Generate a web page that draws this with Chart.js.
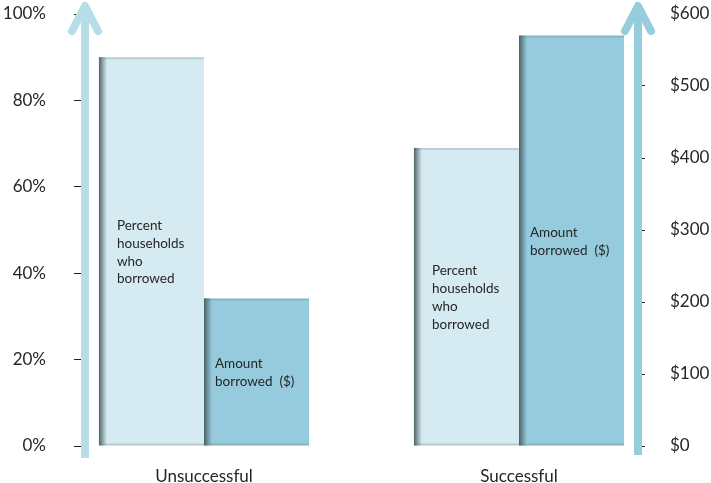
<!DOCTYPE html>
<html>
<head>
<meta charset="utf-8">
<script src="https://cdn.jsdelivr.net/npm/chart.js@4.4.1/dist/chart.umd.min.js"></script>
<style>
  html, body { margin: 0; padding: 0; background: #fff; }
  #wrap { width: 711px; height: 483px; }
</style>
</head>
<body>
<div id="wrap"><canvas id="borrowChart"></canvas></div>
<script>
const categories = ['Unsuccessful', 'Successful'];
const pctBorrowed = [90, 69];
const amtBorrowed = [205, 570];
const pctLabel = ['Percent', 'households', 'who', 'borrowed'];
const amtLabel = ['Amount', 'borrowed  ($)'];

const FONT = 'Lato, "Open Sans", sans-serif';
const TEXT = '#262626';

// left-edge shading + thin top/bottom edges on every bar
const barShade = {
    id: 'barShade',
    afterDatasetsDraw(chart) {
        const ctx = chart.ctx;
        chart.data.datasets.forEach((ds, i) => {
            chart.getDatasetMeta(i).data.forEach(bar => {
                const { x, y, base, width } = bar.getProps(['x', 'y', 'base', 'width'], true);
                const left = x - width / 2;
                ctx.save();
                let g = ctx.createLinearGradient(left, 0, left + 8, 0);
                g.addColorStop(0, 'rgba(70,90,95,0.95)');
                g.addColorStop(0.4, 'rgba(70,90,95,0.55)');
                g.addColorStop(1, 'rgba(70,90,95,0)');
                ctx.fillStyle = g;
                ctx.fillRect(left, y, 8, base - y);
                ctx.fillStyle = 'rgba(60,90,100,0.18)';
                ctx.fillRect(left, y, width, 2);
                ctx.fillStyle = 'rgba(90,110,115,0.25)';
                ctx.fillRect(left, base - 2, width, 2);
                ctx.restore();
            });
        });
    }
};

// series names written inside the bars
const barText = {
    id: 'barText',
    afterDatasetsDraw(chart) {
        const ctx = chart.ctx;
        const sets = [[pctLabel, 18], [amtLabel, 11]];
        ctx.save();
        ctx.font = '13.5px ' + FONT;
        ctx.fillStyle = TEXT;
        ctx.textAlign = 'left';
        ctx.textBaseline = 'middle';
        sets.forEach(([lines, dx], i) => {
            chart.getDatasetMeta(i).data.forEach(bar => {
                const { x, y, base, width } = bar.getProps(['x', 'y', 'base', 'width'], true);
                const lh = 17.8;
                const mid = (y + base) / 2 + 1;
                const y0 = mid - (lines.length - 1) * lh / 2;
                lines.forEach((t, k) => ctx.fillText(t, x - width / 2 + dx, y0 + k * lh));
            });
        });
        ctx.restore();
    }
};

// thick arrows standing in for the two value axes
const axisArrows = {
    id: 'axisArrows',
    afterDraw(chart) {
        const ctx = chart.ctx;
        const a = chart.chartArea;
        const arrow = (cx, bottom, color) => {
            ctx.save();
            ctx.strokeStyle = color;
            ctx.lineWidth = 8;
            ctx.lineCap = 'butt';
            ctx.beginPath();
            ctx.moveTo(cx, bottom);
            ctx.lineTo(cx, a.top - 8);
            ctx.stroke();
            ctx.lineCap = 'round';
            ctx.lineJoin = 'round';
            ctx.beginPath();
            ctx.moveTo(cx - 13, a.top + 17);
            ctx.lineTo(cx, a.top - 8);
            ctx.lineTo(cx + 13, a.top + 17);
            ctx.stroke();
            ctx.restore();
        };
        arrow(a.left + 3, a.bottom + 12, '#b7dde8');
        arrow(a.right + 1, a.bottom + 9, '#96cddd');
    }
};

// keep the value axes from pushing the plot area down
const fitSide = w => scale => {
    scale.width = w;
    scale.paddingTop = 10;
    scale.paddingBottom = 0;
};

new Chart(document.getElementById('borrowChart'), {
    type: 'bar',
    data: {
        datasets: [
            {
                label: 'Percent households who borrowed',
                data: pctBorrowed.map((v, i) => ({ x: i, y: v })),
                yAxisID: 'yPct',
                backgroundColor: '#d6eaf1',
                categoryPercentage: 0.667,
                barPercentage: 1
            },
            {
                label: 'Amount borrowed ($)',
                data: amtBorrowed.map((v, i) => ({ x: i, y: v })),
                yAxisID: 'yAmt',
                backgroundColor: '#95cbdc',
                categoryPercentage: 0.667,
                barPercentage: 1
            }
        ]
    },
    options: {
        responsive: true,
        maintainAspectRatio: false,
        animation: false,
        layout: { padding: { top: 14 } },
        plugins: {
            legend: { display: false },
            tooltip: { enabled: false }
        },
        scales: {
            x: {
                type: 'linear',
                min: -0.3873,
                max: 1.3746,
                offset: false,
                grid: { display: false },
                border: { display: false },
                afterBuildTicks: scale => { scale.ticks = categories.map((c, i) => ({ value: i })); },
                afterFit: scale => { scale.height = 37; },
                ticks: {
                    callback: v => categories[v],
                    font: { family: FONT, size: 17 },
                    color: TEXT,
                    padding: 12
                }
            },
            yPct: {
                position: 'left',
                min: 0,
                max: 100,
                afterFit: fitSide(82),
                grid: { drawOnChartArea: false, tickLength: 8, tickColor: '#222' },
                border: { display: false },
                ticks: {
                    stepSize: 20,
                    callback: v => v + '%',
                    font: { family: FONT, size: 17 },
                    color: TEXT,
                    padding: 28
                }
            },
            yAmt: {
                position: 'right',
                min: 0,
                max: 600,
                afterFit: fitSide(74),
                grid: { drawOnChartArea: false, tickLength: 8, tickColor: '#222' },
                border: { display: false },
                ticks: {
                    stepSize: 100,
                    callback: v => '$' + v,
                    font: { family: FONT, size: 17 },
                    color: TEXT,
                    padding: 25
                }
            }
        }
    },
    plugins: [barShade, barText, axisArrows]
});
</script>
</body>
</html>
